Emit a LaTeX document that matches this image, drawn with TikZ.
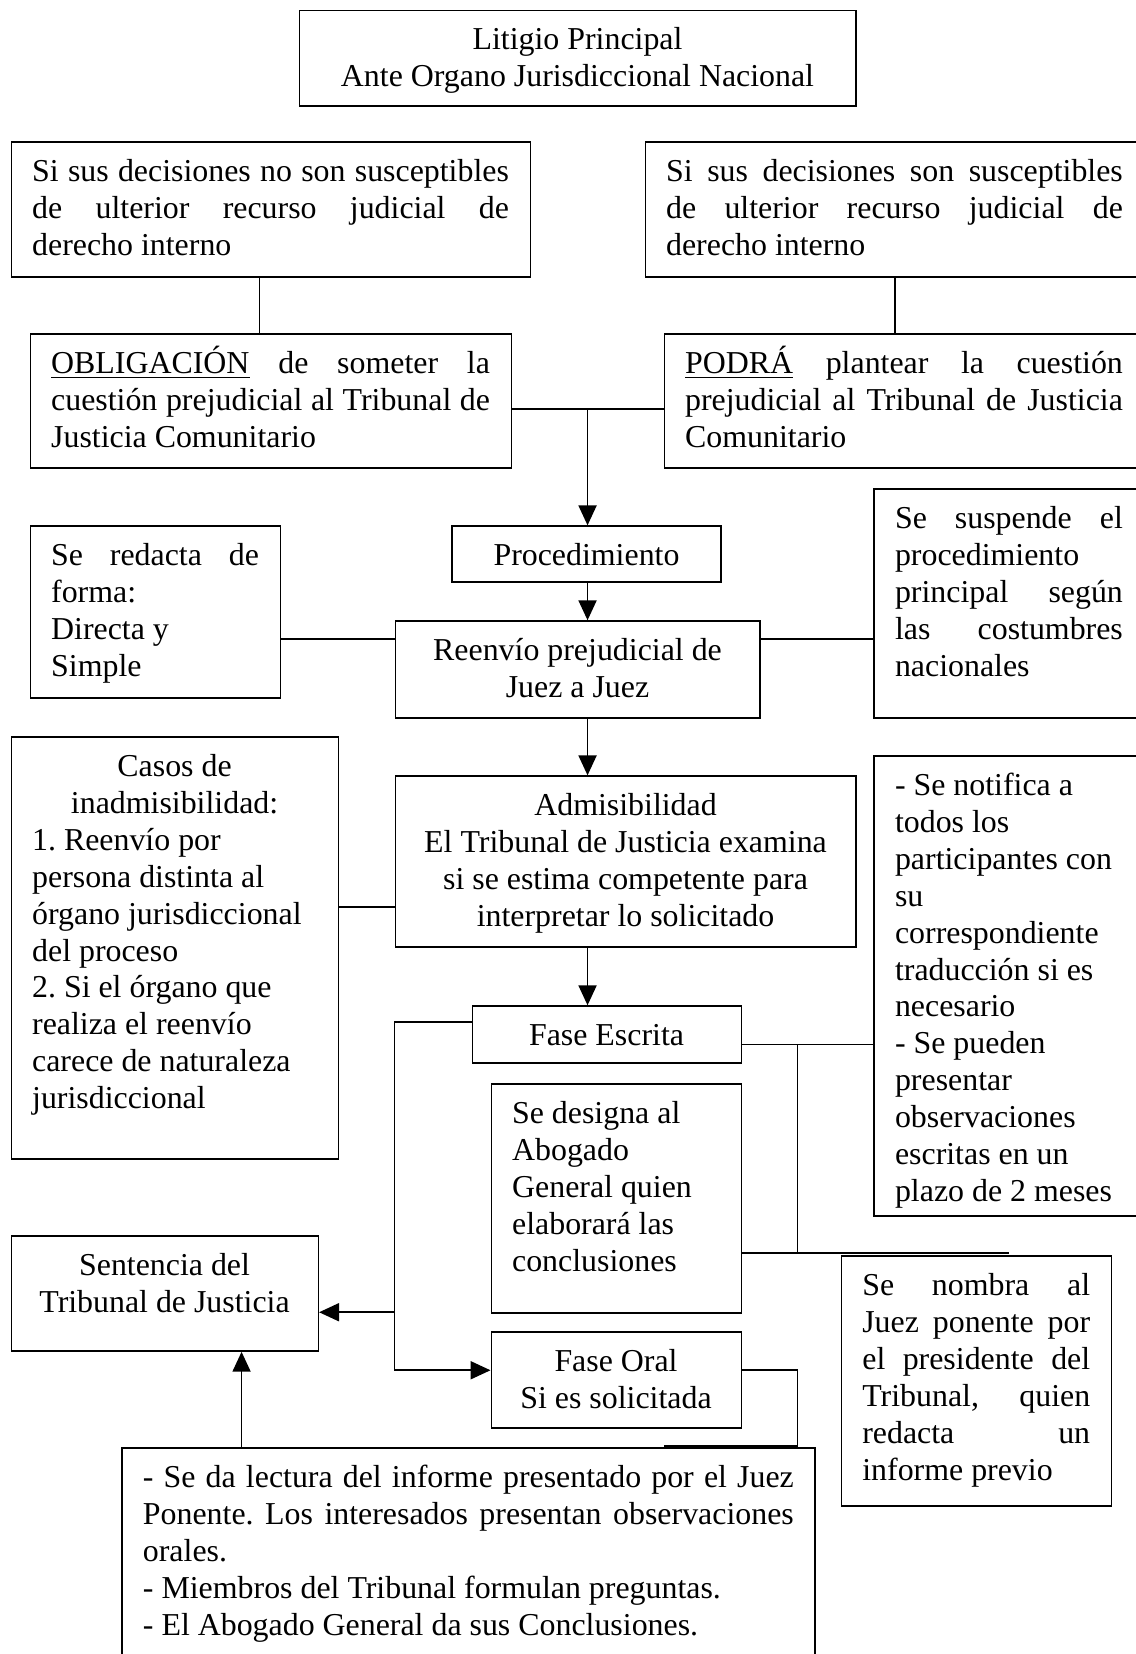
\documentclass[tikz,border=0pt]{standalone}
\usepackage{fontspec}
\setmainfont{Liberation Serif}
\usepackage{tikz}
\usetikzlibrary{
    arrows.meta,
}
\frenchspacing
\newcommand{\px}{0.397pt}
\tikzstyle{caja}=[draw,rectangle,line width=.6pt,inner sep=0pt,anchor=north west]
\tikzstyle{texto}=[inner sep=0pt,anchor=base west,font=\fontsize{12}{13.9}\selectfont]
\tikzstyle{enlace}=[line width=.6pt]
\tikzset{
    >={Triangle[length=7.5pt,width=6.8pt]}
}
\newcommand{\Justa}[1]{\makebox[\AnchoCaja][s]{#1}}
\newcommand{\Caja}[6][align=flush left]{%
    \pgfmathsetlengthmacro{\AnchoCaja}{(#4-40)*\px}%
    \node[caja,minimum width=#4*\px,minimum height=#5*\px] (#2) at (#3) {};
    \node[texto,text width=\AnchoCaja,#1] (#2-t) at ([shift={(20,38)}]#2.north west) {#6};
}

\begin{document}
\begin{tikzpicture}[x=\px,y=-\px]
    \useasboundingbox (0,0) rectangle (1076,1568);

    % Cajas
    \Caja[align=flush center]{litigio}{283,9}{528}{91}{Litigio Principal\\Ante Organo Jurisdiccional Nacional}
    \Caja{noRecurso}{10,134}{492}{128}{\Justa{Si sus decisiones no son susceptibles}\\\Justa{de ulterior recurso judicial de}\\derecho interno}
    \Caja{siRecurso}{611,134}{473}{128}{\Justa{Si sus decisiones son susceptibles}\\\Justa{de ulterior recurso judicial de}\\derecho interno}
    \Caja{obligacion}{28,316}{456}{127}{\Justa{\underline{OBLIGACIÓN} de someter la}\\\Justa{cuestión prejudicial al Tribunal de}\\Justicia Comunitario}
    \Caja{podra}{629,316}{455}{127}{\Justa{\underline{PODRÁ} plantear la cuestión}\\\Justa{prejudicial al Tribunal de Justicia}\\Comunitario}
    \Caja[align=flush center]{procedimiento}{428,498}{255}{53}{Procedimiento}
    \Caja[align=flush center]{reenvio}{374,588}{346}{92}{Reenvío prejudicial de\\Juez a Juez}
    \Caja{redacta}{28,498}{237}{163}{\Justa{Se redacta de}\\forma:\\Directa y\\Simple}
    \Caja{suspende}{828,463}{256}{217}{\Justa{Se suspende el}\\procedimiento\\\Justa{principal según}\\\Justa{las costumbres}\\nacionales}
    \Caja[align=flush center]{admisibilidad}{374,735}{437}{162}{Admisibilidad\\El Tribunal de Justicia examina\\si se estima competente para\\interpretar lo solicitado}
    \Caja{casos}{10,698}{310}{400}{{\centering Casos de\\inadmisibilidad:\par}1. Reenvío por\\persona distinta al\\órgano jurisdiccional\\del proceso\\2. Si el órgano que\\realiza el reenvío\\carece de naturaleza\\jurisdiccional}
    \Caja{notifica}{828,716}{256}{436}{- Se notifica a\\todos los\\participantes con\\su\\correspondiente\\traducción si es\\necesario\\- Se pueden\\presentar\\observaciones\\escritas en un\\plazo de 2 meses}
    \Caja[align=flush center]{escrita}{447,953}{255}{54}{Fase Escrita}
    \Caja{designa}{465,1027}{237}{217}{Se designa al\\Abogado\\General quien\\elaborará las\\conclusiones}
    \Caja[align=flush center]{sentencia}{10,1171}{291}{109}{Sentencia del\\Tribunal de Justicia}
    \Caja[align=flush center]{oral}{465,1262}{237}{91}{Fase Oral\\Si es solicitada}
    \Caja{nombra}{797,1190}{256}{237}{\Justa{Se nombra al}\\\Justa{Juez ponente por}\\\Justa{el presidente del}\\\Justa{Tribunal, quien}\\\Justa{redacta un}\\informe previo}
    \Caja{final}{115,1372}{657}{230}{\Justa{- Se da lectura del informe presentado por el Juez}\\\Justa{Ponente. Los interesados presentan observaciones}\\orales.\\- Miembros del Tribunal formulan preguntas.\\- El Abogado General da sus Conclusiones.}

    % Puntos de paso
    \coordinate (eje) at (557,0);
    \coordinate (ejeA) at (246,0);
    \coordinate (cruce) at (557,388);
    \coordinate (hReenvio) at (0,606);
    \coordinate (hAdmis) at (0,860);
    \coordinate (izq) at (374,969);
    \coordinate (izqSent) at (374,1244);
    \coordinate (izqBaja) at (374,1299);
    \coordinate (der) at (756,990);
    \coordinate (derBaja) at (756,1188);
    \coordinate (finNombra) at (957,1188);
    \coordinate (derOral) at (756,1299);
    \coordinate (derFinal) at (756,1371);
    \coordinate (finFinal) at (629,1371);
    \coordinate (ejeF) at (229,0);

    % Enlaces
    \draw[enlace] (noRecurso.south -| ejeA) -- (obligacion.north -| ejeA);
    \draw[enlace] (siRecurso.south) -- (siRecurso.south |- podra.north);
    \draw[enlace] (obligacion.east |- cruce) -- (podra.west |- cruce);
    \draw[enlace,->] (cruce) -- (procedimiento.north -| cruce);
    \draw[enlace,->] (procedimiento.south -| eje) -- (reenvio.north -| eje);
    \draw[enlace] (redacta.east |- hReenvio) -- (reenvio.west |- hReenvio);
    \draw[enlace] (reenvio.east |- hReenvio) -- (suspende.west |- hReenvio);
    \draw[enlace,->] (reenvio.south -| eje) -- (admisibilidad.north -| eje);
    \draw[enlace] (casos.east |- hAdmis) -- (admisibilidad.west |- hAdmis);
    \draw[enlace,->] (admisibilidad.south -| eje) -- (escrita.north -| eje);
    \draw[enlace,->] (escrita.west |- izq) -- (izq) -- (izqBaja) -- (oral.west |- izqBaja);
    \draw[enlace,->] (izqSent) -- (sentencia.east |- izqSent);
    \draw[enlace] (escrita.east |- der) -- (notifica.west |- der);
    \draw[enlace] (der) -- (derBaja);
    \draw[enlace] (designa.east |- derBaja) -- (finNombra);
    \draw[enlace] (oral.east |- derOral) -- (derOral) -- (derFinal) -- (finFinal);
    \draw[enlace,->] (final.north -| ejeF) -- (sentencia.south -| ejeF);
\end{tikzpicture}
\end{document}
